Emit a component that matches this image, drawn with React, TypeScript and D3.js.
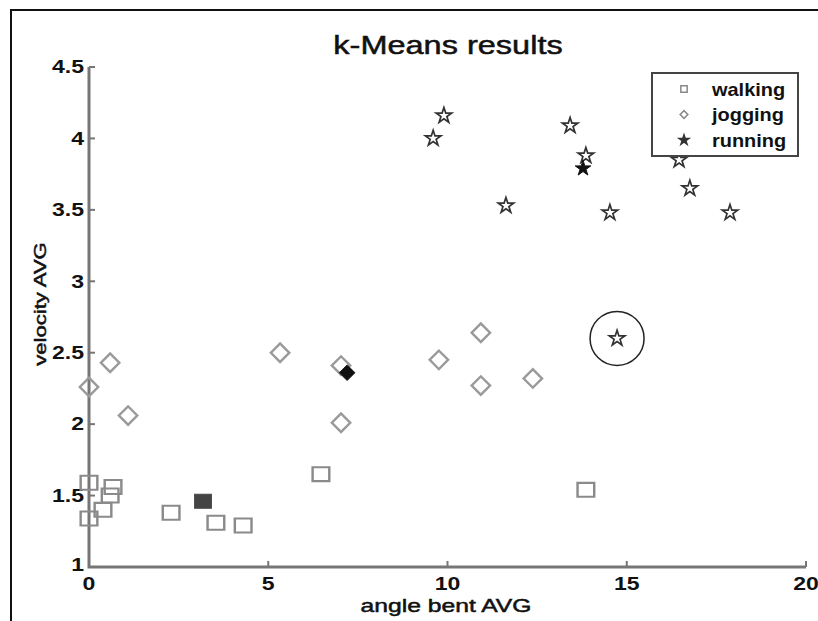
import React from 'react';
import * as d3 from 'd3';

// values
const walkingX = [0, 0, 0.39, 0.59, 0.67, 2.29, 3.54, 4.3, 6.47, 13.86];
const walkingY = [1.59, 1.34, 1.4, 1.5, 1.56, 1.38, 1.31, 1.29, 1.65, 1.54];
const joggingX = [0, 0.59, 1.09, 5.33, 7.03, 7.03, 9.76, 10.93, 10.93, 12.38];
const joggingY = [2.26, 2.43, 2.06, 2.5, 2.41, 2.01, 2.45, 2.64, 2.27, 2.32];
const runningX = [9.9, 9.6, 13.42, 13.86, 11.63, 14.53, 16.46, 16.76, 17.88, 14.73];
const runningY = [4.16, 4.0, 4.09, 3.88, 3.53, 3.48, 3.85, 3.65, 3.48, 2.6];
const centroidX = [3.18, 7.2, 13.78];
const centroidY = [1.46, 2.36, 3.79];
const outlierIndex = 9; // circled running point
const xTicks = [0, 5, 10, 15, 20];
const yTicks = [1, 1.5, 2, 2.5, 3, 3.5, 4, 4.5];
const legendLabels = ['walking', 'jogging', 'running'];

const W = 818;
const H = 621;
const FONT = '"Liberation Sans", Arial, sans-serif';
const STRETCH = 1.3;

export default function App() {
  const x = d3.scaleLinear().domain([0, 20]).range([89, 806]);
  const y = d3.scaleLinear().domain([1, 4.5]).range([567, 67]);

  const square = d3.symbol().type(d3.symbolSquare).size(230)()!;
  const diamond = d3.symbol().type(d3.symbolSquare).size(170)()!;
  const star = d3.symbol().type(d3.symbolStar).size(75)()!;
  const smallSquare = d3.symbol().type(d3.symbolSquare).size(40)()!;
  const smallDiamond = d3.symbol().type(d3.symbolSquare).size(30)()!;
  const smallStar = d3.symbol().type(d3.symbolStar).size(30)()!;

  const axisColor = '#767676';
  const legend = { x: 652, y: 73, w: 146, h: 83 };
  // regular text drawn slightly heavier, like the blurred original
  const heavy = { stroke: '#111', strokeWidth: 0.5 };

  return (
    <svg width={W} height={H} style={{ position: 'absolute', left: 0, top: 0, background: '#fff' }}>
      {/* figure frame */}
      <path d={`M11,${H} V10 H${W}`} fill="none" stroke="#111" strokeWidth={2} />

      <text transform={`translate(448,54) scale(${STRETCH},1)`} textAnchor="middle"
        fontFamily={FONT} fontSize={25} fill="#111" {...heavy}>k-Means results</text>

      {/* axes */}
      <path d={`M${x(0)},${y(4.5)} V${y(1)} H${x(20)}`} fill="none" stroke={axisColor} strokeWidth={3} />
      {yTicks.map(t => (
        <g key={'y' + t}>
          <line x1={x(0)} x2={x(0) + 6} y1={y(t)} y2={y(t)} stroke={axisColor} strokeWidth={2} />
          <text transform={`translate(84,${t === 1 ? y(t) - 2 : y(t)}) scale(1.28,1)`} textAnchor="end"
            dy="0.35em" fontFamily={FONT} fontSize={18} fontWeight="bold" fill="#111">{t}</text>
        </g>
      ))}
      {xTicks.map(t => (
        <g key={'x' + t}>
          <line x1={x(t)} x2={x(t)} y1={y(1)} y2={y(1) - 6} stroke={axisColor} strokeWidth={2} />
          <text transform={`translate(${x(t)},590) scale(1.28,1)`} textAnchor="middle"
            fontFamily={FONT} fontSize={18} fontWeight="bold" fill="#111">{t}</text>
        </g>
      ))}
      <text transform={`translate(446,612) scale(${STRETCH},1)`} textAnchor="middle"
        fontFamily={FONT} fontSize={19} fill="#111" {...heavy}>angle bent AVG</text>
      <text transform={`translate(46,304) rotate(-90) scale(${STRETCH},1)`} textAnchor="middle"
        fontFamily={FONT} fontSize={17} fill="#111" {...heavy}>velocity AVG</text>

      {/* walking */}
      {walkingX.map((v, i) => (
        <path key={'w' + i} d={square} transform={`translate(${x(v)},${y(walkingY[i])}) scale(1.1,0.92)`}
          fill="none" stroke="#8a8a8a" strokeWidth={2.2} />
      ))}
      {/* jogging */}
      {joggingX.map((v, i) => (
        <path key={'j' + i} d={diamond} transform={`translate(${x(v)},${y(joggingY[i])}) rotate(45)`}
          fill="none" stroke="#9a9a9a" strokeWidth={2.4} />
      ))}
      {/* running */}
      {runningX.map((v, i) => (
        <path key={'r' + i} d={star} transform={`translate(${x(v)},${y(runningY[i])})`}
          fill="none" stroke="#333" strokeWidth={1.7} />
      ))}
      <circle cx={x(runningX[outlierIndex])} cy={y(runningY[outlierIndex])} r={27}
        fill="none" stroke="#222" strokeWidth={1.5} />

      {/* centroids */}
      <path d={square} transform={`translate(${x(centroidX[0])},${y(centroidY[0])}) scale(1.1,0.92)`}
        fill="#444" stroke="#444" strokeWidth={1} />
      <path d={diamond} transform={`translate(${x(centroidX[1])},${y(centroidY[1])}) rotate(45) scale(0.85)`}
        fill="#111" stroke="#111" strokeWidth={1} />
      <path d={star} transform={`translate(${x(centroidX[2])},${y(centroidY[2])})`}
        fill="#111" stroke="#111" strokeWidth={1} />

      {/* legend */}
      <rect x={legend.x} y={legend.y} width={legend.w} height={legend.h} fill="#fff" stroke="#444" strokeWidth={2} />
      {legendLabels.map((label, i) => {
        const ly = legend.y + 16 + i * 25.5;
        const mark = i === 0 ? smallSquare : i === 1 ? smallDiamond : smallStar;
        return (
          <g key={label}>
            <path d={mark} transform={`translate(684,${ly})${i === 1 ? ' rotate(45)' : ''}`}
              fill={i === 2 ? '#333' : 'none'} stroke={i === 2 ? '#333' : '#8a8a8a'} strokeWidth={1.5} />
            <text transform={`translate(712,${ly}) scale(1.05,1)`} dy="0.35em"
              fontFamily={FONT} fontSize={19} fontWeight="bold" fill="#111">{label}</text>
          </g>
        );
      })}
    </svg>
  );
}
